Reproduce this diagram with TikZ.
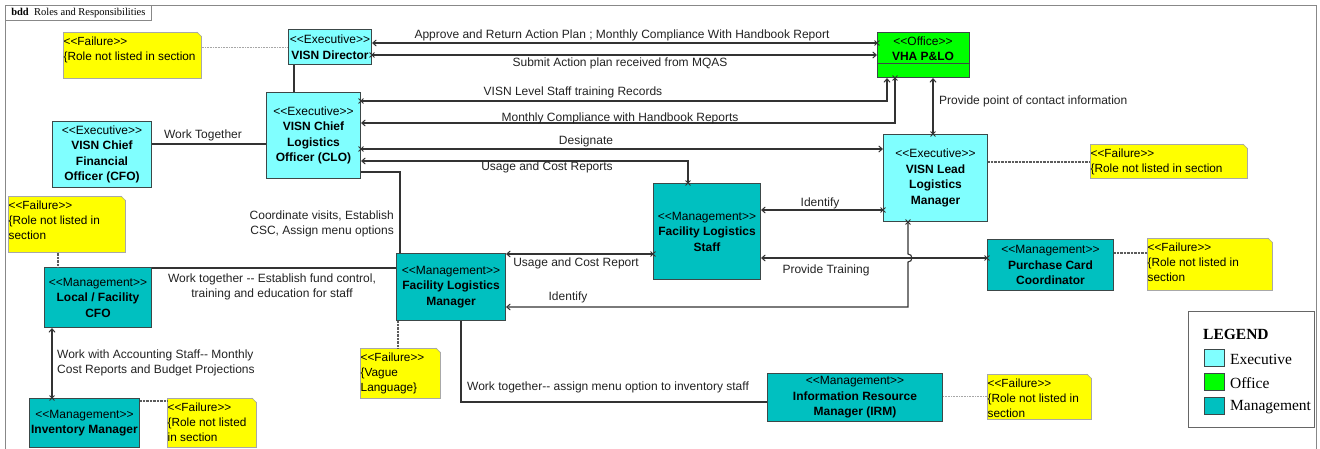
\documentclass[tikz,border=0pt]{standalone}
\usepackage{fontspec}
\setmainfont{Liberation Sans}
\newfontfamily\tnr{Liberation Serif}
\usetikzlibrary{arrows.meta,shapes.misc,calc}
\definecolor{execC}{HTML}{80FFFF}
\definecolor{officeC}{HTML}{00FF00}
\definecolor{mgmtC}{HTML}{00C0C0}
\definecolor{bord}{HTML}{3C4848}
\definecolor{noteY}{HTML}{FFFF00}
\definecolor{noteB}{HTML}{A8A8A8}
\definecolor{lnk}{HTML}{333333}
\definecolor{labC}{HTML}{222222}
\definecolor{frameC}{HTML}{888888}
\newcommand\dd{\mbox{-}\mbox{-}}
\newcommand\stp[1]{\mbox{<}\mbox{<}#1\mbox{>}\mbox{>}}
\newcommand\fnote[6]{%
  \node[note, minimum width=#4pt, minimum height=#5pt] (#1) at (#2,#3) {};
  \fill[white] ($(#1.north east)+(-5,-1)$) -- ($(#1.north east)+(1,-1)$) -- ($(#1.north east)+(1,5)$) -- cycle;
  \draw[noteB, line width=0.6pt] ($(#1.north east)+(-5,0)$) -- ($(#1.north east)+(0,5)$);
  \node[ntext] (#1t) at ($(#1.north west)+(0,4.5)$) {#6};
}
\begin{document}
\begin{tikzpicture}[x=1pt,y=-1pt,
  box/.style={draw=bord, line width=1pt, align=center, inner sep=0pt, anchor=north west,
    font=\fontsize{12}{15.5}\selectfont},
  exe/.style={box, fill=execC},
  off/.style={box, fill=officeC},
  mgm/.style={box, fill=mgmtC},
  note/.style={fill=noteY, draw=noteB, line width=0.7pt, anchor=north west, inner sep=0pt},
  ntext/.style={anchor=north west, inner xsep=0.5pt, inner ysep=0pt, align=left,
    font=\fontsize{11.8}{15}\selectfont},
  conn/.style={draw=lnk, line width=1.1pt},
  arr/.style={-{Straight Barb[length=3.5pt,width=6pt,line width=1pt]}},
  xm/.style={draw=lnk, cross out, minimum size=4pt, inner sep=0pt, line width=0.9pt},
  dotd/.style={draw=lnk!80, line width=1.2pt, dash pattern=on 0.8pt off 0.6pt},
  dotl/.style={draw=black!35, line width=0.8pt, dash pattern=on 0.8pt off 0.8pt},
  lab/.style={text=labC, inner sep=0pt, font=\fontsize{12}{15}\selectfont},
  leg/.style={font=\tnr\fontsize{15.5}{18}\selectfont, inner sep=0pt, anchor=west},
  sw/.style={draw=bord, line width=0.9pt, minimum width=20pt, minimum height=17pt, inner sep=0pt, anchor=north west}
]
\useasboundingbox (0,0) rectangle (1320,449);
% frame
\draw[frameC, line width=0.8pt] (5,449) -- (5,5) -- (1316,5) -- (1316,449);
\node[draw=frameC, line width=0.8pt, anchor=north west, minimum width=146pt, minimum height=15pt, inner sep=0pt,
  font=\tnr\fontsize{10.5}{12}\selectfont] (title) at (5,5) {\textbf{bdd}\ \ Roles and Responsibilities\hspace{3pt}};

% boxes
\node[exe, minimum width=83pt, minimum height=35pt] (dir) at (288,29) {\stp{Executive}\\\textbf{VISN Director}};
\node[exe, minimum width=94pt, minimum height=86pt] (clo) at (266,92) {\stp{Executive}\\\textbf{VISN Chief}\\\textbf{Logistics}\\\textbf{Officer (CLO)}};
\node[exe, minimum width=99pt, minimum height=66pt] (cfo) at (52,121) {\stp{Executive}\\\textbf{VISN Chief}\\\textbf{Financial}\\\textbf{Officer (CFO)}};
\node[exe, minimum width=104pt, minimum height=87pt] (lead) at (883,134) {\stp{Executive}\\\textbf{VISN Lead}\\\textbf{Logistics}\\\textbf{Manager}};
\node[off, minimum width=92pt, minimum height=45pt] (vha) at (877,32) {};
\draw[bord, line width=0.9pt] (vha.west |- 0,63) -- (vha.east |- 0,63);
\node[align=center, inner sep=0pt, font=\fontsize{12}{15.5}\selectfont] (vhat) at (923,48.5) {\stp{Office}\\\textbf{VHA P\&LO}};
\node[mgm, minimum width=107pt, minimum height=96pt] (fls) at (653,183) {\stp{Management}\\\textbf{Facility Logistics}\\\textbf{Staff}};
\node[mgm, minimum width=109pt, minimum height=67pt] (flm) at (396,253) {\stp{Management}\\\textbf{Facility Logistics}\\\textbf{Manager}};
\node[mgm, minimum width=107pt, minimum height=60pt] (lcfo) at (44,267) {\stp{Management}\\\textbf{Local / Facility}\\\textbf{CFO}};
\node[mgm, minimum width=110pt, minimum height=49pt] (inv) at (29,398) {\stp{Management}\\\textbf{Inventory Manager}};
\node[mgm, minimum width=126pt, minimum height=51pt] (pcc) at (987,239) {\stp{Management}\\\textbf{Purchase Card}\\\textbf{Coordinator}};
\node[mgm, minimum width=175pt, minimum height=48pt] (irm) at (767,373) {\stp{Management}\\\textbf{Information Resource}\\\textbf{Manager (IRM)}};

% notes
\fnote{n1}{63}{32}{138}{46}{\stp{Failure}\\\{Role not listed in section}
\fnote{n2}{1090}{144}{157}{34}{\stp{Failure}\\\{Role not listed in section}
\fnote{n3}{8}{196}{117}{56}{\stp{Failure}\\\{Role not listed in\\section}
\fnote{n4}{1147}{238}{125}{52}{\stp{Failure}\\\{Role not listed in\\section}
\fnote{n5}{167}{398}{89}{49}{\stp{Failure}\\\{Role not listed\\in section}
\fnote{n6}{360}{348}{80}{50}{\stp{Failure}\\\{Vague\\Language\}}
\fnote{n7}{987}{374}{104}{45}{\stp{Failure}\\\{Role not listed in\\section}

% note links
\draw[dotl] (n1.east |- 0,47) -- (dir.west |- 0,47);
\draw[dotd] (lead.east |- 0,162) -- (n2.west |- 0,162);
\draw[dotd] (n3.south -| 58,0) -- (lcfo.north -| 58,0);
\draw[dotd] (pcc.east |- 0,253) -- (n4.west |- 0,253);
\draw[dotd] (inv.east |- 0,401) -- (n5.west |- 0,401);
\draw[dotd] (flm.south -| 398,0) -- (n6.north -| 398,0);
\draw[dotl] (irm.east |- 0,396) -- (n7.west |- 0,396);

% connectors
\draw[conn,arr] (vha.west |- 0,43) node[xm]{} -- (dir.east |- 0,43);
\draw[conn,arr] (dir.east |- 0,55) node[xm]{} -- (vha.west |- 0,55);
\draw[conn,arr] (clo.east |- 0,101) node[xm]{} -| (vha.south -| 887,0);
\draw[conn,arr] (vha.south -| 895,0) node[xm]{} |- (clo.east |- 0,123);
\draw[conn,arr] (clo.east |- 0,149) node[xm]{} -- (lead.west |- 0,149);
\draw[conn,arr] (fls.north -| 688,0) node[xm]{} |- (clo.east |- 0,161);
\draw[conn] (clo.east |- 0,172) -| (flm.north -| 400,0);
\draw[conn] (cfo.east |- 0,144) -- (clo.west |- 0,144);
\draw[conn] (dir.south -| 294,0) -- (clo.north -| 294,0);
\draw[conn,arr] (lead.north -| 933,0) node[xm]{} -- (vha.south -| 933,0);
\draw[conn,arr] (lead.west |- 0,210) node[xm]{} -- (fls.east |- 0,210);
\draw[conn,arr] (fls.west |- 0,254) node[xm]{} -- (flm.east |- 0,254);
\draw[conn,arr] (pcc.west |- 0,258) node[xm]{} -- (fls.east |- 0,258);
\draw[conn,arr] (lead.south -| 908,0) node[xm]{} -- (908,254) arc[start angle=-90, end angle=90, radius=4] |- (flm.east |- 0,307);
\draw[conn] (lcfo.east |- 0,268) -- (flm.west |- 0,268);
\draw[conn,arr] (inv.north -| 52,0) node[xm]{} -- (lcfo.south -| 52,0);
\draw[conn] (flm.south -| 461,0) |- (irm.west |- 0,402);

% labels
\node[lab] (l1) at (622,35) {Approve and Return Action Plan ; Monthly Compliance With Handbook Report};
\node[lab] (l2) at (620,63) {Submit Action plan received from MQAS};
\node[lab] (l3) at (573,92) {VISN Level Staff training Records};
\node[lab] (l4) at (620,118) {Monthly Compliance with Handbook Reports};
\node[lab] (l5) at (586,141) {Designate};
\node[lab] (l6) at (547,167) {Usage and Cost Reports};
\node[lab] (l7) at (203,135) {Work Together};
\node[lab, align=right, anchor=east] (l8) at (394,224) {Coordinate visits, Establish\\CSC, Assign menu options};
\node[lab, align=center] (l9) at (272,287) {Work together \dd{} Establish fund control,\\training and education for staff};
\node[lab] (l10) at (576,263) {Usage and Cost Report};
\node[lab] (l11) at (820,203) {Identify};
\node[lab] (l12) at (826,270) {Provide Training};
\node[lab] (l13) at (568,297) {Identify};
\node[lab, anchor=west] (l14) at (939,101) {Provide point of contact information};
\node[lab, anchor=west, align=left] (l15) at (57,363) {Work with Accounting Staff\dd{} Monthly\\Cost Reports and Budget Projections};
\node[lab, anchor=west] (l16) at (467,387) {Work together\dd{} assign menu option to inventory staff};

% legend
\node[draw=black!60, line width=0.9pt, fill=white, anchor=north west, minimum width=126pt, minimum height=116pt, inner sep=0pt] (legbox) at (1188,311) {};
\node[leg, font=\tnr\bfseries\fontsize{15.5}{18}\selectfont] (legt) at (1203,334) {LEGEND};
\node[sw, fill=execC] (sw1) at (1204,349) {};
\node[sw, fill=officeC] (sw2) at (1204,373) {};
\node[sw, fill=mgmtC] (sw3) at (1204,397) {};
\node[leg] (lg1) at ($(sw1.east)+(5,1)$) {Executive};
\node[leg] (lg2) at ($(sw2.east)+(5,1)$) {Office};
\node[leg] (lg3) at ($(sw3.east)+(5,1)$) {Management};
\end{tikzpicture}
\end{document}
